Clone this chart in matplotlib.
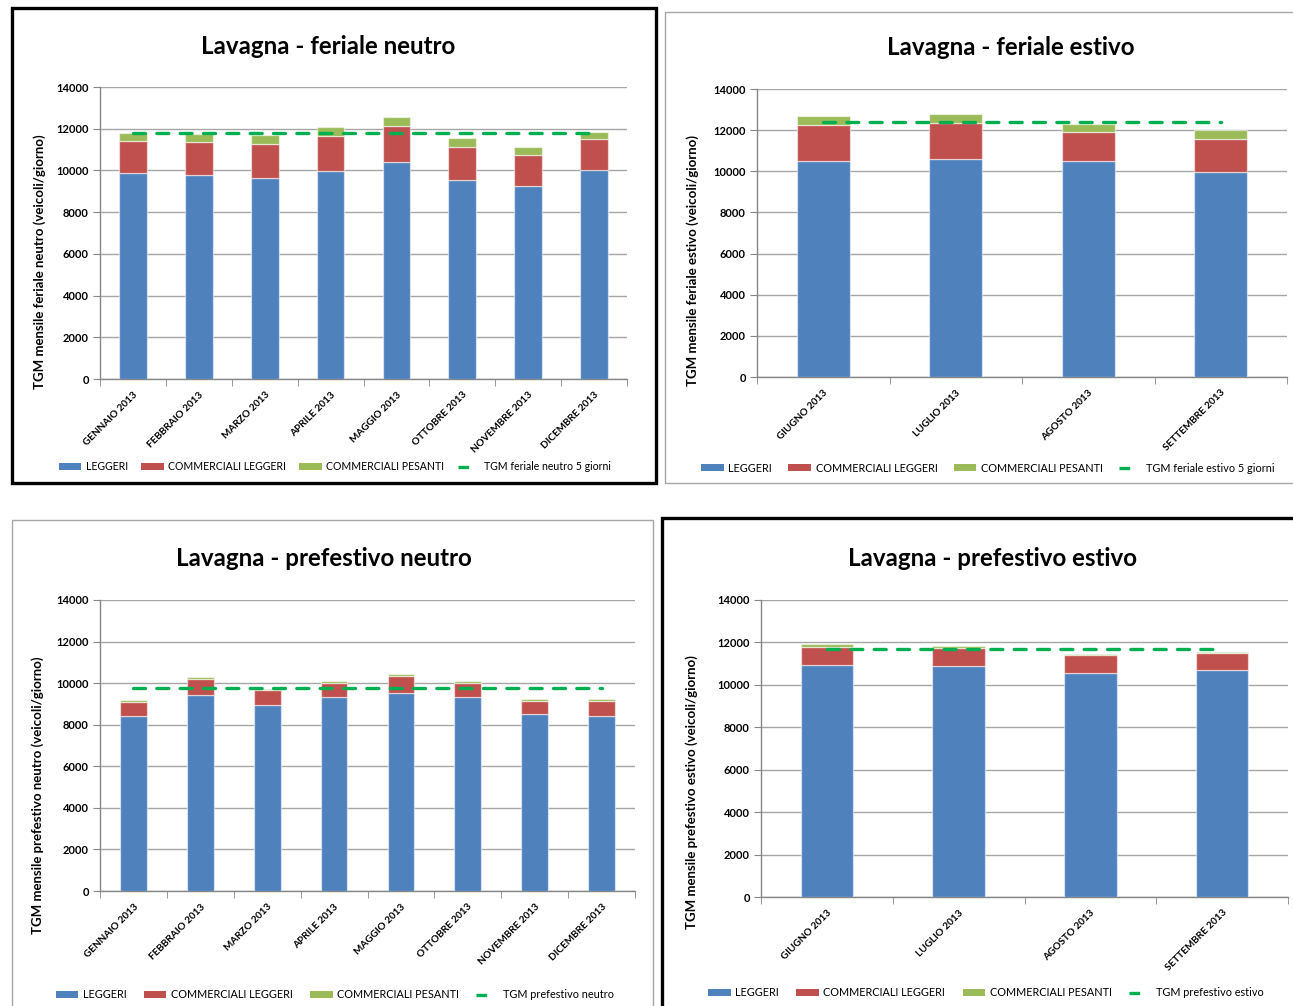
import matplotlib
matplotlib.use("Agg")
import matplotlib.pyplot as plt
from matplotlib.patches import Rectangle, Patch
from matplotlib.lines import Line2D

plt.rcParams['font.family'] = ['Lato', 'DejaVu Sans']

# ---- data -------------------------------------------------------------
months_neutro = ["GENNAIO 2013", "FEBBRAIO 2013", "MARZO 2013", "APRILE 2013",
                 "MAGGIO 2013", "OTTOBRE 2013", "NOVEMBRE 2013", "DICEMBRE 2013"]
months_estivo = ["GIUGNO 2013", "LUGLIO 2013", "AGOSTO 2013", "SETTEMBRE 2013"]

# feriale neutro
fn_leggeri = [9900, 9760, 9660, 9980, 10390, 9560, 9270, 10010]
fn_comm_leggeri = [1530, 1600, 1600, 1650, 1720, 1570, 1480, 1500]
fn_comm_pesanti = [360, 380, 420, 470, 460, 420, 390, 340]
fn_tgm = 11800

# feriale estivo
fe_leggeri = [10480, 10600, 10520, 9970]
fe_comm_leggeri = [1750, 1730, 1400, 1600]
fe_comm_pesanti = [440, 460, 380, 430]
fe_tgm = 12420

# prefestivo neutro
pn_leggeri = [8430, 9440, 8950, 9310, 9520, 9310, 8500, 8430]
pn_comm_leggeri = [670, 770, 730, 700, 830, 700, 660, 730]
pn_comm_pesanti = [90, 80, 60, 100, 95, 100, 90, 90]
pn_tgm = 9750

# prefestivo estivo
pe_leggeri = [10940, 10900, 10560, 10690]
pe_comm_leggeri = [860, 850, 830, 800]
pe_comm_pesanti = [130, 80, 60, 60]
pe_tgm = 11690

series_labels = ["LEGGERI", "COMMERCIALI LEGGERI", "COMMERCIALI PESANTI"]

# ---- style ------------------------------------------------------------
W, H = 1293, 1006
C_BLUE, C_RED, C_GREEN = "#4f81bd", "#c0504d", "#9bbb59"
C_LINE = "#00b050"
C_GRID = "#a6a6a6"
C_AXIS = "#868686"

fig = plt.figure(figsize=(W / 100, H / 100), dpi=100)


def px_axes(x0, y0, x1, y1):
    return fig.add_axes([x0 / W, 1 - y1 / H, (x1 - x0) / W, (y1 - y0) / H])


def px_text(x, y, s, **kw):
    fig.text(x / W, 1 - y / H, s, **kw)


def frame(x0, y0, x1, y1, color, lw):
    fig.add_artist(Rectangle((x0 / W, 1 - y1 / H), (x1 - x0) / W, (y1 - y0) / H,
                             transform=fig.transFigure, fill=False,
                             edgecolor=color, linewidth=lw, zorder=10))


def panel(box, cats, leg, cl, cp, tgm, width, title, title_xy,
          ylabel, ylabel_xy, legend_xy, line_label, legend_size, col_space):
    ax = px_axes(*box)
    n = len(cats)
    x = list(range(n))
    edge = dict(edgecolor=(1, 1, 1, 0.55), linewidth=0.9)
    ax.bar(x, leg, width, color=C_BLUE, zorder=3, **edge)
    ax.bar(x, cl, width, bottom=leg, color=C_RED, zorder=3, **edge)
    bottoms = [a + b for a, b in zip(leg, cl)]
    ax.bar(x, cp, width, bottom=bottoms, color=C_GREEN, zorder=3, **edge)
    ax.hlines(tgm, 0, n - 1, colors=C_LINE, linewidth=2.4,
              linestyles=(0, (3.6, 3.4)), zorder=4, capstyle='round')

    ax.set_xlim(-0.5, n - 0.5)
    ax.set_ylim(0, 14000)
    ax.set_yticks(range(0, 14001, 2000))
    ax.set_yticklabels([str(v) for v in range(0, 14001, 2000)],
                       fontsize=8, fontweight='bold')
    ax.yaxis.grid(True, color=C_GRID, linewidth=1.0, zorder=0)
    ax.set_axisbelow(True)

    ax.set_xticks(x)
    ax.set_xticklabels(cats, rotation=45, ha='right', rotation_mode='anchor',
                       fontsize=7.2, fontweight='bold')
    ax.tick_params(axis='x', which='major', length=0, pad=8)
    ax.set_xticks([i + 0.5 for i in range(-1, n)], minor=True)
    ax.tick_params(axis='x', which='minor', length=5, color=C_AXIS, direction='out')
    ax.tick_params(axis='y', length=5, color=C_AXIS, direction='out', pad=3)

    for s in ("top", "right"):
        ax.spines[s].set_visible(False)
    for s in ("left", "bottom"):
        ax.spines[s].set_color(C_AXIS)
        ax.spines[s].set_linewidth(1.0)

    px_text(title_xy[0], title_xy[1], title, fontsize=17.4, fontweight='bold',
            ha='center', va='center')
    px_text(ylabel_xy[0], ylabel_xy[1], ylabel, fontsize=9.5, fontweight='bold',
            rotation=90, ha='center', va='center')

    handles = [Patch(facecolor=C_BLUE), Patch(facecolor=C_RED), Patch(facecolor=C_GREEN),
               Line2D([0], [0], color=C_LINE, linewidth=2.4,
                      linestyle=(0, (3.2, 10)), dash_capstyle='butt')]
    labels = series_labels + [line_label]
    fig.legend(handles, labels, loc='center',
               bbox_to_anchor=(legend_xy[0] / W, 1 - legend_xy[1] / H),
               ncol=4, frameon=False, fontsize=legend_size, handlelength=2.1,
               handleheight=0.65, handletextpad=0.4, columnspacing=col_space,
               borderaxespad=0)
    return ax


panel((100, 87, 627, 379), months_neutro, fn_leggeri, fn_comm_leggeri, fn_comm_pesanti,
      fn_tgm, 0.42, "Lavagna - feriale neutro", (328, 47),
      "TGM mensile feriale neutro (veicoli/giorno)", (40, 262), (335, 467),
      "TGM feriale neutro 5 giorni", 7.6, 1.3)

panel((757, 89, 1287, 377), months_estivo, fe_leggeri, fe_comm_leggeri, fe_comm_pesanti,
      fe_tgm, 0.40, "Lavagna - feriale estivo", (1011, 48),
      "TGM mensile feriale estivo (veicoli/giorno)", (693, 260), (988, 468),
      "TGM feriale estivo 5 giorni", 7.8, 1.5)

panel((100, 600, 635, 891), months_neutro, pn_leggeri, pn_comm_leggeri, pn_comm_pesanti,
      pn_tgm, 0.40, "Lavagna - prefestivo neutro", (324, 558),
      "TGM mensile prefestivo neutro (veicoli/giorno)", (38, 795), (335, 995),
      "TGM prefestivo neutro", 7.8, 1.6)

panel((761, 600, 1288, 897), months_estivo, pe_leggeri, pe_comm_leggeri, pe_comm_pesanti,
      pe_tgm, 0.40, "Lavagna - prefestivo estivo", (993, 559),
      "TGM mensile prefestivo estivo (veicoli/giorno)", (692, 792), (986, 993),
      "TGM prefestivo estivo", 7.8, 1.6)

# panel frames
frame(12, 8, 656, 483, "black", 2.4)
frame(665, 12, 1300, 483, C_GRID, 1.0)
frame(12, 520, 653, 1012, C_GRID, 1.0)
frame(662, 518, 1300, 1012, "black", 2.4)

fig.savefig("out.png", dpi=100)
